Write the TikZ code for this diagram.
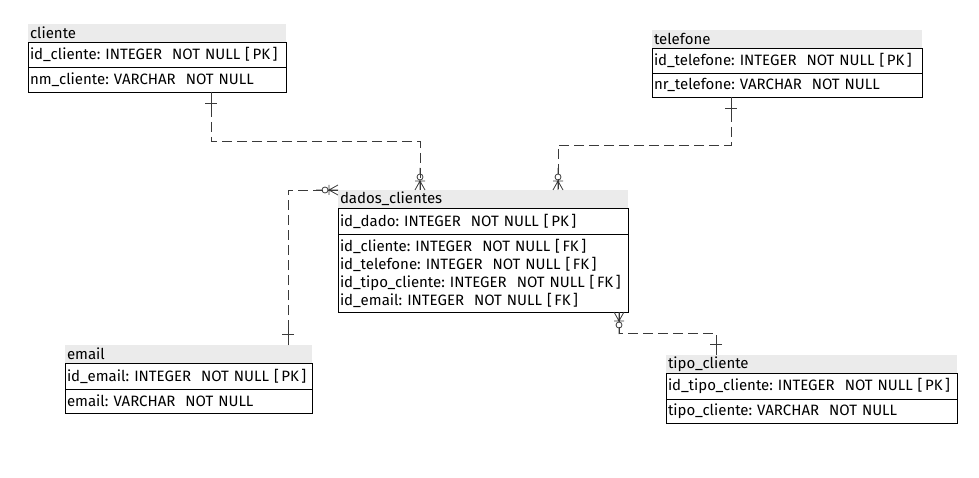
\documentclass[tikz,border=0pt]{standalone}
\usepackage{fontspec}
\setmainfont{Fira Sans}
\usepackage{tikz}
\usetikzlibrary{positioning}
\usetikzlibrary{calc}

\definecolor{titlegray}{HTML}{EBEBEB}
\definecolor{linegray}{HTML}{3A3A3A}

\tikzset{
  etitle/.style={anchor=north west,fill=titlegray,minimum height=18pt,inner xsep=2pt,inner ysep=0pt,outer sep=0pt,align=left,font=\fontsize{15}{18}\selectfont},
  erow/.style={draw=black,line width=0.7pt,inner xsep=2pt,inner ysep=3pt,outer sep=0pt,align=left,font=\fontsize{15}{18}\selectfont},
  rel/.style={draw=linegray,line width=0.8pt,dash pattern=on 10pt off 5pt},
  pics/one mark/.style={code={
    \draw[linegray,line width=0.8pt] (0,0) -- (0,16) (-6,11) -- (6,11);
  }},
  pics/many mark/.style={code={
    \draw[linegray,line width=0.8pt] (0,-9) -- (0,-3) (0,3) -- (0,13)
      (0,4) -- (-5,13) (0,4) -- (5,13) (-5,4) -- (5,4);
    \draw[linegray,line width=0.8pt] (0,0) circle (3pt);
  }}
}
\frenchspacing

\begin{document}
\begin{tikzpicture}[x=1pt,y=-1pt]
  \useasboundingbox (0,0) rectangle (979,478);

  % tabelas
  \node[etitle,text width=254pt] (cliente) at (28,24) {cliente};
  \node[erow,text width=254pt,minimum height=25pt,below=0pt of cliente.south west,anchor=north west] (clienteA) {id\_cliente: INTEGER\ \ NOT NULL [\,PK\,]};
  \node[erow,text width=254pt,minimum height=25pt,below=0pt of clienteA.south west,anchor=north west] (clienteB) {nm\_cliente: VARCHAR\ \ NOT NULL};

  \node[etitle,text width=266pt] (telefone) at (652,30) {telefone};
  \node[erow,text width=266pt,minimum height=25pt,below=0pt of telefone.south west,anchor=north west] (telefoneA) {id\_telefone: INTEGER\ \ NOT NULL [\,PK\,]};
  \node[erow,text width=266pt,minimum height=24pt,below=0pt of telefoneA.south west,anchor=north west] (telefoneB) {nr\_telefone: VARCHAR\ \ NOT NULL};

  \node[etitle,text width=286pt] (dados) at (338,190) {dados\_clientes};
  \node[erow,text width=286pt,minimum height=26pt,below=0pt of dados.south west,anchor=north west] (dadosA) {id\_dado: INTEGER\ \ NOT NULL [\,PK\,]};
  \node[erow,text width=286pt,minimum height=78pt,below=0pt of dadosA.south west,anchor=north west] (dadosB) {id\_cliente: INTEGER\ \ NOT NULL [\,FK\,]\\
    id\_telefone: INTEGER\ \ NOT NULL [\,FK\,]\\
    id\_tipo\_cliente: INTEGER\ \ NOT NULL [\,FK\,]\\
    id\_email: INTEGER\ \ NOT NULL [\,FK\,]};

  \node[etitle,text width=243pt] (email) at (65,345) {email};
  \node[erow,text width=243pt,minimum height=26pt,below=0pt of email.south west,anchor=north west] (emailA) {id\_email: INTEGER\ \ NOT NULL [\,PK\,]};
  \node[erow,text width=243pt,minimum height=24pt,below=0pt of emailA.south west,anchor=north west] (emailB) {email: VARCHAR\ \ NOT NULL};

  \node[etitle,text width=287pt] (tipo) at (666,355) {tipo\_cliente};
  \node[erow,text width=287pt,minimum height=26pt,below=0pt of tipo.south west,anchor=north west] (tipoA) {id\_tipo\_cliente: INTEGER\ \ NOT NULL [\,PK\,]};
  \node[erow,text width=287pt,minimum height=24pt,below=0pt of tipoA.south west,anchor=north west] (tipoB) {tipo\_cliente: VARCHAR\ \ NOT NULL};

  % relacionamentos
  \draw[rel] ($(clienteB.south west)+(183,0)$) |- ($(dados.north west)+(82,-49)$) -- (dados.north west -| 420,0);
  \pic at ($(clienteB.south west)+(183,0)$) {one mark};
  \pic at ($(dados.north west)+(82,-13)$) {many mark};

  \draw[rel] ($(telefoneB.south west)+(79,0)$) |- ($(dados.north west)+(220,-45)$) -- (dados.north west -| 558,0);
  \pic at ($(telefoneB.south west)+(79,0)$) {one mark};
  \pic at ($(dados.north west)+(220,-13)$) {many mark};

  \draw[rel] ($(email.north west)+(223,0)$) |- (dados.north west);
  \pic[rotate=180] at ($(email.north west)+(223,0)$) {one mark};
  \pic[rotate=90] at ($(dados.north west)+(-13,0)$) {many mark};

  \draw[rel] ($(dadosB.south west)+(281,0)$) |- ($(tipo.north west)+(50,-22)$) -- (tipo.north west -| 716,0);
  \pic[rotate=180] at ($(dadosB.south west)+(281,13)$) {many mark};
  \pic[rotate=180] at (tipo.north west -| 716,0) {one mark};
\end{tikzpicture}
\end{document}
